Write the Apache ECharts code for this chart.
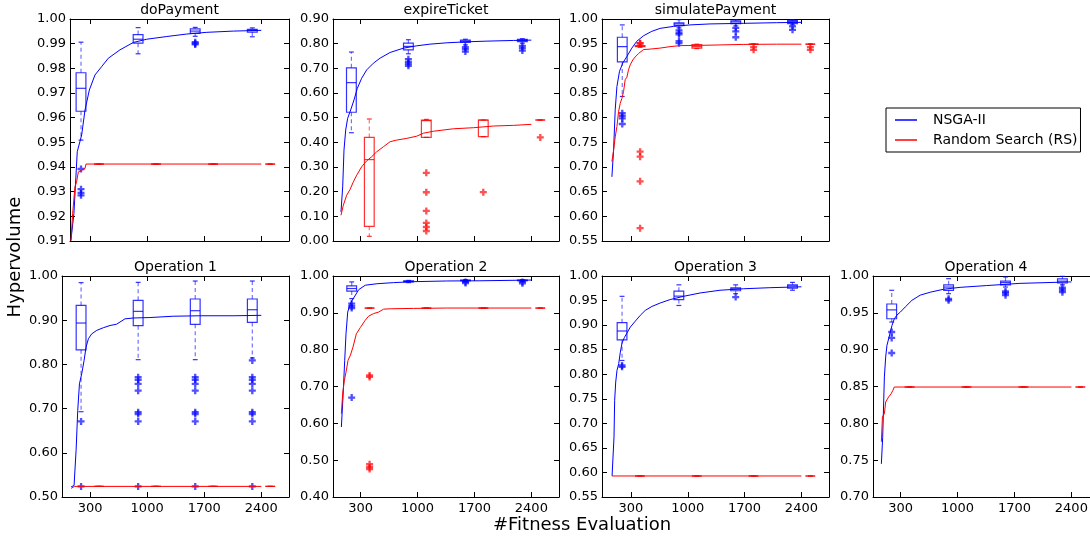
<!DOCTYPE html>
<html>
<head>
<meta charset="utf-8">
<script src="https://cdn.jsdelivr.net/npm/echarts/dist/echarts.min.js"></script>
<style>
  html, body { margin: 0; padding: 0; background: #fff; }
  #chart { width: 1090px; height: 536px; }
</style>
</head>
<body>
<div id="chart"></div>
<script>
// x ticks and box positions (fitness evaluations)
var xTicks = [300, 1000, 1700, 2400];
var nsgaPos = [190, 890, 1590, 2290];
var rsPos = [410, 1110, 1810, 2510];

var titles = ['doPayment', 'expireTicket', 'simulatePayment', 'Operation 1', 'Operation 2', 'Operation 3', 'Operation 4'];
var yMins = [0.91, 0.00, 0.55, 0.50, 0.40, 0.55, 0.70];
var yMaxs = [1.00, 0.90, 1.00, 1.00, 1.00, 1.00, 1.00];
var ySteps = [0.01, 0.10, 0.05, 0.10, 0.10, 0.05, 0.05];

// doPayment
var doPaymentNsgaLine = [[67,0.9105],[103,0.9211],[144,0.9462],[198,0.953],[239,0.9631],[292,0.9712],[361,0.9773],[443,0.9807],[525,0.9841],[668,0.9875],[832,0.9905],[996,0.9918],[1242,0.9929],[1487,0.9939],[1733,0.9946],[2060,0.9951],[2400,0.9954]];
var doPaymentRsLine = [[67,0.910],[87,0.921],[116,0.932],[136,0.934],[157,0.938],[198,0.9387],[239,0.9394],[251,0.9412],[2400,0.9412]];
var doPaymentNsgaBox = [[0.9509,0.9626,0.9719,0.9782,0.9906],[0.9859,0.9902,0.9918,0.9937,0.9965],[0.9930,0.9942,0.9951,0.9960,0.9966],[0.9928,0.9947,0.9954,0.9958,0.9964]];
var doPaymentNsgaOut = [[0.9392,0.9310,0.9295,0.9285],[],[0.9906,0.9901,0.9897],[]];
var doPaymentRsBox = [[0.9412,0.9412,0.9412,0.9412,0.9412],[0.9412,0.9412,0.9412,0.9412,0.9412],[0.9412,0.9412,0.9412,0.9412,0.9412],[0.9412,0.9412,0.9412,0.9412,0.9412]];
var doPaymentRsOut = [[],[],[],[]];

// expireTicket
var expireNsgaLine = [[62,0.1179],[83,0.2195],[99,0.3686],[120,0.4499],[144,0.4973],[181,0.5312],[222,0.5718],[263,0.6192],[316,0.6599],[378,0.6938],[460,0.7209],[542,0.7412],[665,0.7642],[829,0.7818],[993,0.7913],[1157,0.7981],[1362,0.8035],[1608,0.8076],[1854,0.8103],[2182,0.8130],[2400,0.8144]];
var expireRsLine = [[62,0.1043],[91,0.145],[132,0.1856],[173,0.2087],[214,0.2398],[255,0.2669],[316,0.3008],[378,0.3252],[439,0.3415],[501,0.3618],[583,0.3821],[665,0.4024],[747,0.4092],[870,0.416],[993,0.425],[1075,0.437],[1198,0.445],[1444,0.455],[1690,0.4593],[1936,0.4661],[2182,0.4688],[2400,0.4729]];
var expireNsgaBox = [[0.439,0.522,0.642,0.702,0.766],[0.759,0.775,0.789,0.802,0.816],[0.795,0.805,0.810,0.814,0.818],[0.802,0.808,0.813,0.817,0.820]];
var expireNsgaOut = [[],[0.737,0.726,0.718,0.710],[0.786,0.778,0.768],[0.791,0.782,0.772]];
var expireRsBox = [[0.019,0.0596,0.33,0.420,0.4946],[0.420,0.420,0.488,0.490,0.493],[0.423,0.423,0.490,0.4905,0.4905],[0.4905,0.4905,0.4905,0.4905,0.4905]];
var expireRsOut = [[],[0.2764,0.1978,0.122,0.0732,0.0569,0.0407],[0.198],[0.420]];

// simulatePayment
var simulateNsgaLine = [[62,0.680],[83,0.734],[103,0.816],[124,0.863],[156,0.894],[197,0.911],[247,0.924],[308,0.941],[370,0.955],[452,0.966],[554,0.975],[657,0.981],[821,0.985],[1026,0.988],[1272,0.990],[1682,0.9912],[2092,0.9925],[2400,0.9932]];
var simulateRsLine = [[62,0.711],[83,0.734],[103,0.761],[124,0.782],[144,0.812],[165,0.829],[185,0.839],[206,0.853],[226,0.877],[247,0.882],[267,0.897],[288,0.907],[320,0.917],[349,0.923],[390,0.930],[452,0.938],[534,0.939],[657,0.941],[780,0.944],[903,0.946],[1272,0.947],[1682,0.9485],[2092,0.949],[2400,0.949]];
var simulateNsgaBox = [[0.843,0.913,0.944,0.963,0.988],[0.982,0.9864,0.990,0.992,0.9986],[0.986,0.9905,0.994,0.996,0.9986],[0.988,0.9905,0.9945,0.9966,0.9986]];
var simulateNsgaOut = [[0.809,0.8035,0.7987,0.7872],[0.977,0.972,0.969,0.955,0.951],[0.982,0.975,0.963],[0.985,0.978]];
var simulateRsBox = [[0.9425,0.944,0.945,0.946,0.9475],[0.940,0.941,0.944,0.948,0.949],[0.949,0.949,0.949,0.949,0.949],[0.949,0.949,0.949,0.949,0.949]];
var simulateRsOut = [[0.951,0.9505,0.731,0.721,0.671,0.576],[],[0.943,0.9375],[0.943,0.9375]];

// Operation 1
var op1NsgaLine = [[68,0.523],[104,0.526],[129,0.606],[149,0.696],[170,0.756],[198,0.779],[227,0.809],[251,0.839],[280,0.858],[320,0.869],[382,0.877],[463,0.883],[545,0.888],[626,0.891],[728,0.903],[830,0.905],[1034,0.906],[1320,0.909],[1646,0.910],[2054,0.910],[2400,0.911]];
var op1RsLine = [[68,0.5196],[110,0.524],[2400,0.524]];
var op1NsgaBox = [[0.693,0.833,0.8936,0.9335,0.985],[0.8107,0.8876,0.920,0.945,0.9856],[0.8107,0.8906,0.9215,0.948,0.9886],[0.8145,0.895,0.9237,0.948,0.9886]];
var op1NsgaOut = [[0.671,0.524],[0.771,0.765,0.756,0.7405,0.692,0.6877,0.671,0.524],[0.771,0.765,0.756,0.7405,0.692,0.6877,0.671,0.524],[0.809,0.771,0.765,0.756,0.7405,0.692,0.6877,0.671,0.524]];
var op1RsBox = [[0.524,0.524,0.524,0.524,0.524],[0.524,0.524,0.524,0.524,0.524],[0.524,0.524,0.524,0.524,0.524],[0.524,0.524,0.524,0.524,0.524]];
var op1RsOut = [[],[],[],[]];

// Operation 2
var op2NsgaLine = [[63,0.590],[83,0.6715],[104,0.771],[120,0.843],[141,0.902],[165,0.920],[194,0.934],[222,0.943],[276,0.963],[357,0.975],[500,0.979],[704,0.982],[950,0.9846],[1358,0.9865],[1767,0.987],[2400,0.989]];
var op2RsLine = [[63,0.626],[79,0.681],[100,0.717],[120,0.739],[145,0.771],[174,0.785],[206,0.807],[247,0.843],[296,0.860],[357,0.880],[398,0.891],[459,0.898],[521,0.902],[582,0.910],[664,0.911],[950,0.912],[1358,0.913],[2400,0.913]];
var op2NsgaBox = [[0.9385,0.959,0.966,0.973,0.984],[0.982,0.984,0.985,0.987,0.988],[0.985,0.987,0.988,0.989,0.990],[0.985,0.987,0.988,0.989,0.990]];
var op2NsgaOut = [[0.925,0.918,0.913,0.670],[],[0.984,0.981],[0.984,0.980]];
var op2RsBox = [[0.913,0.913,0.913,0.913,0.913],[0.913,0.913,0.913,0.913,0.913],[0.913,0.913,0.913,0.913,0.913],[0.913,0.913,0.913,0.913,0.913]];
var op2RsOut = [[0.730,0.726,0.489,0.481,0.476],[],[],[]];

// Operation 3
var op3NsgaLine = [[67,0.5928],[87,0.5928],[91,0.672],[99,0.747],[112,0.784],[128,0.808],[149,0.8215],[169,0.845],[190,0.8636],[218,0.8744],[251,0.884],[292,0.896],[353,0.908],[415,0.920],[476,0.930],[558,0.938],[660,0.945],[783,0.952],[947,0.9586],[1151,0.9654],[1397,0.971],[1684,0.974],[2011,0.9762],[2400,0.978]];
var op3RsLine = [[67,0.5928],[2400,0.5928]];
var op3NsgaBox = [[0.828,0.870,0.888,0.905,0.9586],[0.940,0.952,0.959,0.969,0.982],[0.964,0.970,0.9735,0.976,0.982],[0.971,0.9755,0.9797,0.982,0.987]];
var op3NsgaOut = [[0.818,0.815],[],[0.957],[]];
var op3RsBox = [[0.5928,0.5928,0.5928,0.5928,0.5928],[0.5928,0.5928,0.5928,0.5928,0.5928],[0.5928,0.5928,0.5928,0.5928,0.5928],[0.5928,0.5928,0.5928,0.5928,0.5928]];
var op3RsOut = [[],[],[],[]];

// Operation 4
var op4NsgaLine = [[63,0.745],[79,0.781],[100,0.863],[116,0.890],[132,0.906],[153,0.915],[173,0.924],[194,0.933],[222,0.942],[255,0.947],[296,0.951],[357,0.958],[439,0.967],[541,0.974],[664,0.978],[827,0.982],[1031,0.9846],[1358,0.987],[1767,0.990],[2400,0.992]];
var op4RsLine = [[63,0.775],[76,0.809],[100,0.813],[116,0.829],[153,0.836],[182,0.840],[206,0.845],[222,0.8493],[2400,0.8493]];
var op4NsgaBox = [[0.9375,0.942,0.954,0.962,0.9806],[0.976,0.9806,0.985,0.988,0.9964],[0.985,0.988,0.991,0.993,0.9987],[0.988,0.9905,0.993,0.996,0.9995]];
var op4NsgaOut = [[0.924,0.916,0.8955],[0.969,0.967],[0.979,0.977,0.974],[0.984,0.981,0.978]];
var op4RsBox = [[0.8493,0.8493,0.8493,0.8493,0.8493],[0.8493,0.8493,0.8493,0.8493,0.8493],[0.8493,0.8493,0.8493,0.8493,0.8493],[0.8493,0.8493,0.8493,0.8493,0.8493]];
var op4RsOut = [[],[],[],[]];

var panelData = [
  [doPaymentNsgaLine, doPaymentRsLine, doPaymentNsgaBox, doPaymentNsgaOut, doPaymentRsBox, doPaymentRsOut],
  [expireNsgaLine, expireRsLine, expireNsgaBox, expireNsgaOut, expireRsBox, expireRsOut],
  [simulateNsgaLine, simulateRsLine, simulateNsgaBox, simulateNsgaOut, simulateRsBox, simulateRsOut],
  [op1NsgaLine, op1RsLine, op1NsgaBox, op1NsgaOut, op1RsBox, op1RsOut],
  [op2NsgaLine, op2RsLine, op2NsgaBox, op2NsgaOut, op2RsBox, op2RsOut],
  [op3NsgaLine, op3RsLine, op3NsgaBox, op3NsgaOut, op3RsBox, op3RsOut],
  [op4NsgaLine, op4RsLine, op4NsgaBox, op4NsgaOut, op4RsBox, op4RsOut]
];

// layout of the subplots (pixels) and x range start
var layout = [
  {left: 70, top: 19, width: 219, height: 222, xMin: 55},
  {left: 333, top: 19, width: 226, height: 222, xMin: -36},
  {left: 602, top: 19, width: 227, height: 222, xMin: -60},
  {left: 62, top: 276, width: 227, height: 221, xMin: -44},
  {left: 333, top: 276, width: 226, height: 221, xMin: -40},
  {left: 602, top: 276, width: 227, height: 221, xMin: -57},
  {left: 873, top: 276, width: 226, height: 221, xMin: -40}
];
var X_MAX = 2740;
var FONT = 'DejaVu Sans';
var BLUE = '#0000ff', RED = '#ff0000';
var PLUS = 'path://M2,0L4,0L4,2L6,2L6,4L4,4L4,6L2,6L2,4L0,4L0,2L2,2Z';

function boxRenderer(color, whiskColor) {
  return function(params, api) {
    var x = api.value(0);
    var lo = api.value(1), q1 = api.value(2), md = api.value(3), q3 = api.value(4), hi = api.value(5);
    var bl = api.coord([x - 60, q3])[0], br = api.coord([x + 60, q3])[0];
    var cl = api.coord([x - 30, q3])[0], cr = api.coord([x + 30, q3])[0];
    var cx = api.coord([x, q3])[0];
    var yHi = api.coord([x, hi])[1], yLo = api.coord([x, lo])[1];
    var yQ1 = api.coord([x, q1])[1], yQ3 = api.coord([x, q3])[1], yMd = api.coord([x, md])[1];
    var solid = {stroke: color, lineWidth: 1.2, fill: null};
    var dash = {stroke: whiskColor, lineWidth: 1.2, lineDash: [4, 3], fill: null};
    return {
      type: 'group',
      children: [
        {type: 'line', shape: {x1: cx, y1: yQ3, x2: cx, y2: yHi}, style: dash},
        {type: 'line', shape: {x1: cx, y1: yQ1, x2: cx, y2: yLo}, style: dash},
        {type: 'line', shape: {x1: cl, y1: yHi, x2: cr, y2: yHi}, style: solid},
        {type: 'line', shape: {x1: cl, y1: yLo, x2: cr, y2: yLo}, style: solid},
        {type: 'polygon', shape: {points: [[bl, yQ3], [br, yQ3], [br, yQ1], [bl, yQ1]]}, style: solid},
        {type: 'line', shape: {x1: bl, y1: yMd, x2: br, y2: yMd}, style: solid}
      ]
    };
  };
}

var grids = [], xAxes = [], yAxes = [], series = [], graphics = [];

for (var i = 0; i < 7; i++) {
  var L = layout[i];
  var bottomRow = i >= 3;
  grids.push({left: L.left, top: L.top, width: L.width, height: L.height, containLabel: false, outerBoundsMode: 'none'});
  var axLine = {show: true, onZero: false, lineStyle: {color: '#000', width: 1}};
  var tickStyle = {color: '#000', width: 1};
  xAxes.push({
    gridIndex: i, type: 'value', position: 'bottom', min: L.xMin, max: X_MAX,
    axisLine: axLine,
    axisTick: {show: true, inside: true, length: 5, customValues: xTicks, lineStyle: tickStyle},
    axisLabel: {show: bottomRow, customValues: xTicks, margin: 5, color: '#000', fontSize: 13, fontFamily: FONT,
      formatter: function(v) { return String(Math.round(v)); }},
    splitLine: {show: false}
  });
  xAxes.push({
    gridIndex: i, type: 'value', position: 'top', min: L.xMin, max: X_MAX,
    axisLine: axLine,
    axisTick: {show: true, inside: true, length: 5, customValues: xTicks, lineStyle: tickStyle},
    axisLabel: {show: false, customValues: xTicks},
    splitLine: {show: false}
  });
  yAxes.push({
    gridIndex: i, type: 'value', position: 'left', min: yMins[i], max: yMaxs[i], interval: ySteps[i],
    axisLine: axLine,
    axisTick: {show: true, inside: true, length: 5, lineStyle: tickStyle},
    axisLabel: {margin: 4, color: '#000', fontSize: 13, fontFamily: FONT, formatter: function(v) { return v.toFixed(2); }},
    splitLine: {show: false}
  });
  yAxes.push({
    gridIndex: i, type: 'value', position: 'right', min: yMins[i], max: yMaxs[i], interval: ySteps[i],
    axisLine: axLine,
    axisTick: {show: true, inside: true, length: 5, lineStyle: tickStyle},
    axisLabel: {show: false},
    splitLine: {show: false}
  });

  var d = panelData[i];
  var xi = 2 * i, yi = 2 * i;

  var nsgaBoxData = [], rsBoxData = [], nsgaOutData = [], rsOutData = [];
  for (var k = 0; k < 4; k++) {
    nsgaBoxData.push([nsgaPos[k]].concat(d[2][k]));
    rsBoxData.push([rsPos[k]].concat(d[4][k]));
    d[3][k].forEach(function(v) { nsgaOutData.push([nsgaPos[k], v]); });
    d[5][k].forEach(function(v) { rsOutData.push([rsPos[k], v]); });
  }

  series.push({
    type: 'custom', name: 'rs box', xAxisIndex: xi, yAxisIndex: yi, silent: true, z: 2,
    renderItem: boxRenderer('rgba(255,0,0,0.8)', 'rgba(255,0,0,0.55)'),
    encode: {x: 0, y: [1, 2, 3, 4, 5]}, data: rsBoxData
  });
  series.push({
    type: 'custom', name: 'nsga box', xAxisIndex: xi, yAxisIndex: yi, silent: true, z: 2,
    renderItem: boxRenderer('rgba(0,0,255,0.8)', 'rgba(0,0,255,0.55)'),
    encode: {x: 0, y: [1, 2, 3, 4, 5]}, data: nsgaBoxData
  });
  series.push({
    type: 'scatter', name: 'rs out', xAxisIndex: xi, yAxisIndex: yi, silent: true, z: 3,
    symbol: PLUS, symbolSize: 7, itemStyle: {color: 'rgba(255,0,0,0.85)'}, data: rsOutData
  });
  series.push({
    type: 'scatter', name: 'nsga out', xAxisIndex: xi, yAxisIndex: yi, silent: true, z: 3,
    symbol: PLUS, symbolSize: 7, itemStyle: {color: 'rgba(0,0,255,0.85)'}, data: nsgaOutData
  });
  series.push({
    type: 'line', name: 'NSGA-II', xAxisIndex: xi, yAxisIndex: yi, data: d[0],
    showSymbol: false, silent: true, z: 4, color: BLUE,
    lineStyle: {color: BLUE, width: 1}, itemStyle: {color: BLUE}
  });
  series.push({
    type: 'line', name: 'Random Search (RS)', xAxisIndex: xi, yAxisIndex: yi, data: d[1],
    showSymbol: false, silent: true, z: 4, color: RED,
    lineStyle: {color: RED, width: 1}, itemStyle: {color: RED}
  });

  graphics.push({
    type: 'text', x: L.left + L.width / 2, y: L.top - 16,
    style: {text: titles[i], textAlign: 'center', textVerticalAlign: 'top', font: '14px "DejaVu Sans"', fill: '#000'}
  });
}

graphics.push({
  type: 'text', x: 15, y: 257, rotation: Math.PI / 2,
  style: {text: 'Hypervolume', textAlign: 'center', textVerticalAlign: 'middle', font: '18px "DejaVu Sans"', fill: '#000'}
});
graphics.push({
  type: 'text', x: 582, y: 525,
  style: {text: '#Fitness Evaluation', textAlign: 'center', textVerticalAlign: 'middle', font: '18px "DejaVu Sans"', fill: '#000'}
});

var chart = echarts.init(document.getElementById('chart'), null, {renderer: 'canvas'});
chart.setOption({
  backgroundColor: '#fff',
  animation: false,
  grid: grids,
  xAxis: xAxes,
  yAxis: yAxes,
  legend: {
    data: [{name: 'NSGA-II', icon: 'rect'}, {name: 'Random Search (RS)', icon: 'rect'}],
    orient: 'vertical', left: 886, top: 108,
    itemWidth: 22, itemHeight: 1.5, itemGap: 6,
    padding: [5, 3, 5, 9],
    borderColor: '#000', borderWidth: 1, borderRadius: 0,
    selectedMode: false,
    textStyle: {fontSize: 14, fontFamily: FONT, color: '#000', padding: [0, 0, 0, 11]}
  },
  graphic: graphics,
  series: series
});
</script>
</body>
</html>
